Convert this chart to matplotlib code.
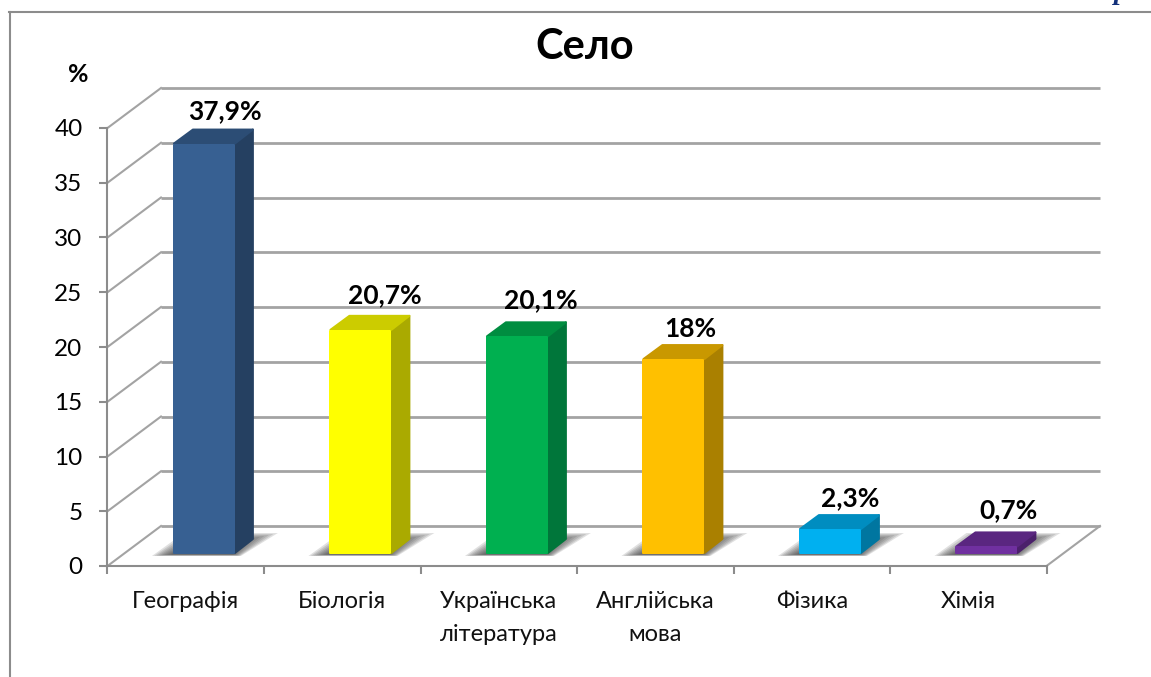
import matplotlib
matplotlib.use('Agg')
import matplotlib.pyplot as plt
from matplotlib.patches import Polygon
from matplotlib.lines import Line2D

plt.rcParams['font.family'] = ['Lato', 'Open Sans', 'DejaVu Sans']

categories = ['Географія', 'Біологія', 'Українська\nлітература',
              'Англійська\nмова', 'Фізика', 'Хімія']
values = [37.9, 20.7, 20.1, 18, 2.3, 0.7]
value_labels = ['37,9%', '20,7%', '20,1%', '18%', '2,3%', '0,7%']
y_ticks = [0, 5, 10, 15, 20, 25, 30, 35, 40]

clr_front = ['#376092', '#FFFF00', '#00B050', '#FFC000', '#00B0F0', '#7030A0']
clr_top = ['#2C4D75', '#CCCC00', '#008D40', '#C99800', '#008DC0', '#5A2680']
clr_side = ['#254061', '#AAAA00', '#00763A', '#AA8000', '#0076A0', '#4B206B']
# label offset from the bar's back top corner, in pixels
label_shift = [(2, 17), (5, 20), (5, 21), (-2, 15), (1, 16), (3, 21)]

clr_grid = '#a3a3a3'
clr_frame = '#8c8c8c'

W, H = 1151, 677
px_x = 156.5          # pixels per category
px_y = 10.95          # pixels per percent

fig = plt.figure(figsize=(W / 100, H / 100), dpi=100)
ax = fig.add_axes([107.5 / W, (H - 566) / H, 939 / W, 438 / H])
ax.set_xlim(0, 6)
ax.set_ylim(0, 40)
ax.patch.set_alpha(0)

# walls: depth of the chart box
wall_dx = 53.5 / px_x
wall_dy = 40 / px_y
for k in y_ticks:
    ax.plot([wall_dx, 6 + wall_dx], [k + wall_dy, k + wall_dy], c=clr_grid, lw=2,
            clip_on=False, zorder=1, solid_capstyle='butt')
    ax.plot([0, wall_dx], [k, k + wall_dy], c=clr_grid, lw=1.5, clip_on=False, zorder=1)
ax.plot([6, 6 + wall_dx], [0, wall_dy], c=clr_grid, lw=1.5, clip_on=False, zorder=1)

for s in ['top', 'right']:
    ax.spines[s].set_visible(False)
for s in ['left', 'bottom']:
    ax.spines[s].set_color(clr_frame)
    ax.spines[s].set_linewidth(1.5)
    ax.spines[s].set_zorder(2)

ax.set_yticks(y_ticks)
ax.set_xticks(range(7))
ax.set_xticklabels([])
ax.set_xticks([i + 0.5 for i in range(6)], minor=True)
ax.set_xticklabels(categories, minor=True, fontsize=17, linespacing=1.68, color='#111111')
ax.tick_params(axis='y', length=6, width=1.5, color=clr_frame, labelsize=17.5, pad=12)
ax.tick_params(axis='x', which='major', length=6, width=1.5, color=clr_frame)
ax.tick_params(axis='x', which='minor', length=0, pad=18)

# bars
bar_left = 0.418
bar_w = 0.396
bar_dx = 19 / px_x
bar_dy = 15 / px_y
base = 12 / px_y
scale = 0.989
ex = 1 / px_x
ey = 1 / px_y
for i in range(len(values)):
    x0 = i + bar_left
    x1 = x0 + bar_w
    top = base + values[i] * scale

    # soft shadow on the floor, stacked see-through layers
    for j in range(9):
        g = j * 3.0 / px_x
        sl = x0 - (21 - j * 2.4) / px_x
        sr = x1 + (43 - j * 4.5) / px_x
        s_lo = base - (2 - j * 0.2) / px_y
        s_hi = base + (21 - j * 1.0) / px_y
        ax.add_patch(Polygon([(sl, s_lo), (x1 + 6 / px_x - g / 3, s_lo), (sr, s_hi),
                              (sl + 32 / px_x, s_hi)],
                             closed=True, fc='#444444', ec='none', alpha=0.16,
                             clip_on=False, zorder=2))

    ax.add_patch(Polygon([(x1, base + ey), (x1 + bar_dx - ex, base + bar_dy),
                          (x1 + bar_dx - ex, top + bar_dy - ey), (x1, top)],
                         closed=True, fc=clr_side[i], ec=clr_side[i], lw=1.44,
                         joinstyle='round', clip_on=False, zorder=3))
    ax.add_patch(Polygon([(x0 + ex, top), (x1, top), (x1 + bar_dx - ex, top + bar_dy - ey),
                          (x0 + bar_dx + ex, top + bar_dy - ey)],
                         closed=True, fc=clr_top[i], ec=clr_top[i], lw=1.44,
                         joinstyle='round', clip_on=False, zorder=3))
    ax.add_patch(Polygon([(x0 + ex, base + ey), (x1 - ex, base + ey),
                          (x1 - ex, top - ey), (x0 + ex, top - ey)],
                         closed=True, fc=clr_front[i], ec=clr_front[i], lw=1.44,
                         joinstyle='round', clip_on=False, zorder=4))

    ax.annotate(value_labels[i], xy=(x0 + bar_w / 2 + bar_dx, top + bar_dy),
                xytext=label_shift[i], textcoords='offset pixels', ha='center', va='center',
                fontsize=19, fontweight='bold', color='black', zorder=5)

# outer chart frame, runs off the image on the right and the bottom
fig.add_artist(Line2D([9.5 / W, 9.5 / W], [0, (H - 12) / H], color=clr_frame, lw=1.5))
fig.add_artist(Line2D([9 / W, 1], [(H - 12) / H, (H - 12) / H], color=clr_frame, lw=1.5))

fig.text(585 / W, (H - 47) / H, 'Село', fontsize=30, fontweight='bold', ha='center', va='center')
fig.text(78 / W, (H - 75) / H, '%', fontsize=18, fontweight='bold', ha='center', va='center')
# cut off letter of the page text above the chart
fig.text(1121 / W, (H + 1) / H, 'р', fontsize=20, fontweight='bold', fontstyle='italic',
         family='Liberation Serif', color='#12307a', ha='center', va='baseline')

fig.savefig('out.png', dpi=100)
